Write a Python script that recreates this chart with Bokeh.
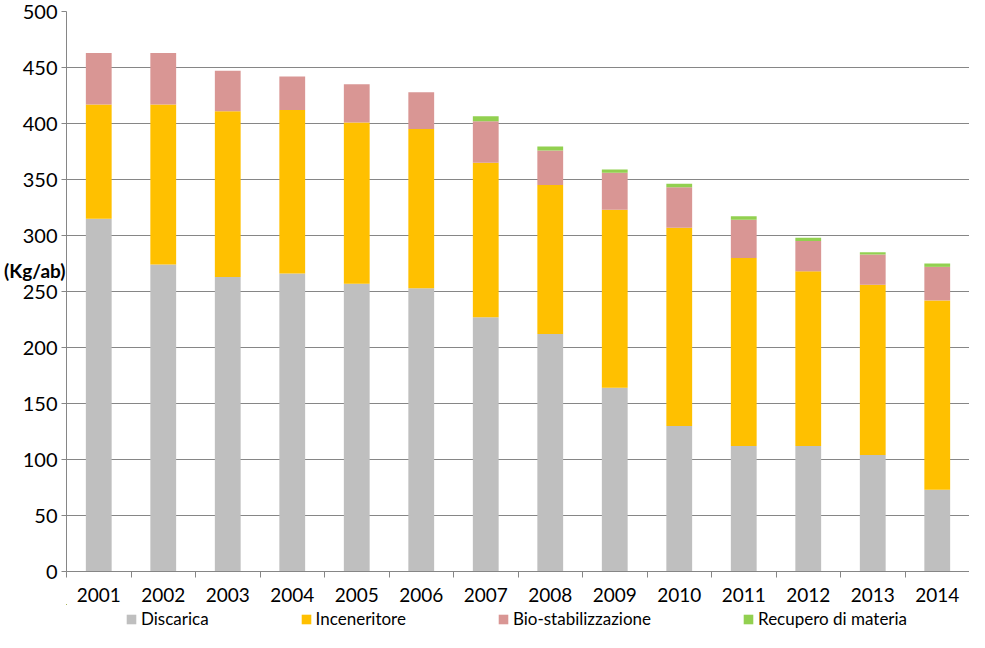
from bokeh.plotting import figure
from bokeh.layouts import column
from bokeh.models import ColumnDataSource, FixedTicker, Range1d, Legend, LegendItem, LinearAxis
from bokeh.embed import file_html
from bokeh.resources import INLINE

years = [2001, 2002, 2003, 2004, 2005, 2006, 2007, 2008, 2009, 2010, 2011, 2012, 2013, 2014]
discarica = [315, 274, 263, 266, 257, 253, 227, 212, 164, 130, 112, 112, 104, 73]
inceneritore = [102, 143, 148, 146, 144, 142, 138, 133, 159, 177, 168, 156, 152, 169]
bio_stabilizzazione = [46, 46, 36, 30, 34, 33, 37, 31, 33, 36, 34, 27, 27, 30]
recupero_materia = [0, 0, 0, 0, 0, 0, 4.5, 3.5, 3, 3.3, 3.2, 3, 2, 3]
series_names = ["Discarica", "Inceneritore", "Bio-stabilizzazione", "Recupero di materia"]
colors = ["#BFBFBF", "#FFC000", "#D99694", "#92D050"]
y_ticks = list(range(0, 501, 50))
y_unit = "(Kg/ab)"
y_unit_at = 269

FONT = "Lato"
GRID = "#868686"
W = 969

xs = list(range(1, len(years) + 1))
keys = ["dis", "inc", "bio", "rec"]
source = ColumnDataSource(dict(x=xs, dis=discarica, inc=inceneritore,
                               bio=bio_stabilizzazione, rec=recupero_materia))

p = figure(frame_width=903, frame_height=560, x_range=Range1d(0.5, len(years) + 0.5),
           y_range=Range1d(0, 500), output_backend="svg", toolbar_location=None,
           min_border_left=66, min_border_right=0, min_border_top=11, min_border_bottom=0)
p.outline_line_color = None
p.background_fill_color = "white"
p.border_fill_color = "white"

p.vbar_stack(keys, x="x", width=0.4, color=colors, line_color=None, source=source)

# x axis: labels at category centres, tick marks between categories
p.xaxis.ticker = FixedTicker(ticks=xs, minor_ticks=[x - 0.5 for x in xs] + [xs[-1] + 0.5])
p.xaxis.major_label_overrides = {x: str(y) for x, y in zip(xs, years)}
p.xaxis.major_tick_line_color = None
p.xaxis.minor_tick_line_color = GRID
p.xaxis.minor_tick_out = 6
p.xaxis.minor_tick_in = 0
p.xaxis.axis_line_color = GRID
p.xaxis.major_label_standoff = 10
p.xaxis.major_label_text_font = FONT
p.xaxis.major_label_text_font_size = "19px"
p.xaxis.major_label_text_color = "black"

# y axis
p.yaxis.ticker = FixedTicker(ticks=y_ticks)
p.yaxis.minor_tick_line_color = None
p.yaxis.major_tick_line_color = GRID
p.yaxis.major_tick_out = 5
p.yaxis.major_tick_in = 0
p.yaxis.axis_line_color = GRID
p.yaxis.major_label_standoff = 4
p.yaxis.major_label_text_font = FONT
p.yaxis.major_label_text_font_size = "20px"
p.yaxis.major_label_text_color = "black"

p.xgrid.grid_line_color = None
p.ygrid.grid_line_color = GRID
p.ygrid.ticker = FixedTicker(ticks=y_ticks)

# unit label as an outer axis with a single label
unit_axis = LinearAxis(ticker=FixedTicker(ticks=[y_unit_at]),
                       major_label_overrides={y_unit_at: y_unit},
                       axis_line_color=None, major_tick_line_color=None,
                       minor_tick_line_color=None, major_tick_out=0, major_tick_in=0,
                       major_label_standoff=-46,
                       major_label_text_font=FONT, major_label_text_font_style="bold",
                       major_label_text_font_size="19px", major_label_text_color="black")
p.add_layout(unit_axis, "left")

# legend strip underneath (legend proxies use the same data, kept out of view)
lg = figure(width=W, height=26, x_range=Range1d(100, 101), y_range=Range1d(-2, -1),
            output_backend="svg", toolbar_location=None, x_axis_location=None,
            y_axis_location=None, min_border=0)
lg.outline_line_color = None
lg.xgrid.grid_line_color = None
lg.ygrid.grid_line_color = None
swatches = lg.vbar_stack(keys, x="x", width=0.4, color=colors, line_color=None, source=source)
legend = Legend(items=[LegendItem(label=n, renderers=[r]) for n, r in zip(series_names, swatches)],
                orientation="horizontal", location=(59, 1), spacing=91,
                glyph_width=12, glyph_height=12, label_standoff=4, padding=0, margin=0,
                border_line_color=None, background_fill_alpha=0,
                label_text_font=FONT, label_text_font_size="17px",
                label_text_color="black", label_height=18)
lg.add_layout(legend, "center")

layout = column(p, lg, spacing=0)
open("out.html", "w").write(file_html(layout, INLINE))
